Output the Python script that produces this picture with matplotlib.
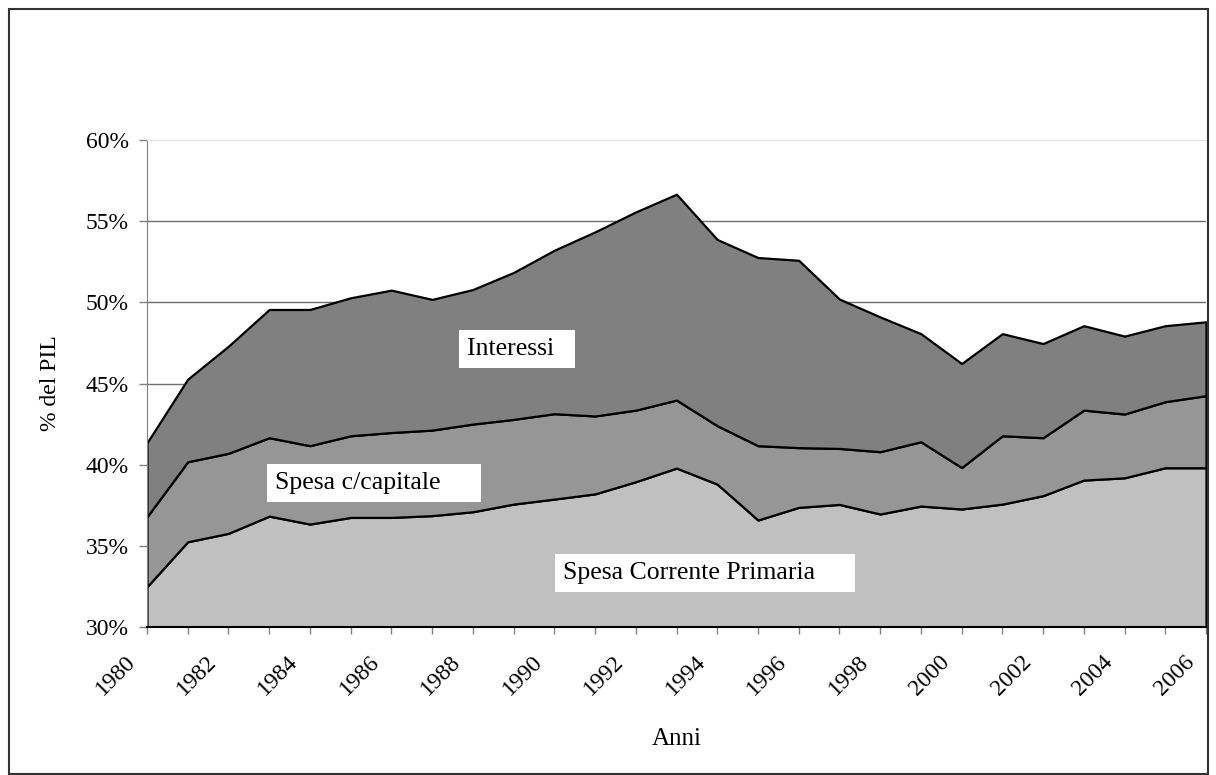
import matplotlib
matplotlib.use("Agg")
import matplotlib.pyplot as plt
from matplotlib.patches import Rectangle
from matplotlib.transforms import ScaledTranslation
import numpy as np

plt.rcParams['font.family'] = ['Liberation Serif', 'DejaVu Serif']

# anni e componenti della spesa (% del PIL)
anni = list(range(1980, 2007))
spesa_corrente = [32.48, 35.25, 35.77, 36.83, 36.34, 36.75, 36.75, 36.86, 37.10, 37.57,
                  37.88, 38.20, 38.95, 39.79, 38.80, 36.59, 37.37, 37.55, 36.96, 37.45,
                  37.27, 37.57, 38.09, 39.05, 39.19, 39.81, 39.81]
spesa_capitale = [4.31, 4.93, 4.93, 4.83, 4.83, 5.03, 5.23, 5.27, 5.40, 5.22,
                  5.26, 4.80, 4.41, 4.19, 3.60, 4.58, 3.68, 3.45, 3.84, 3.96,
                  2.55, 4.21, 3.57, 4.31, 3.93, 4.07, 4.44]
interessi = [4.56, 5.09, 6.60, 7.90, 8.39, 8.50, 8.77, 8.05, 8.29, 9.05,
             10.07, 11.34, 12.21, 12.68, 11.47, 11.59, 11.54, 9.20, 8.30, 6.66,
             6.41, 6.29, 5.80, 5.20, 4.80, 4.68, 4.55]
yticks = [30, 35, 40, 45, 50, 55, 60]

fig = plt.figure(figsize=(12.16, 7.75), dpi=100)
ax = fig.add_axes([147/1216, 1-627/775, (1206-147)/1216, (627-140)/775])

ax.stackplot(anni, spesa_corrente, spesa_capitale, interessi,
             colors=['#c0c0c0', '#969696', '#808080'],
             edgecolor='black', linewidth=1.6)

ax.set_xlim(anni[0], anni[-1])
ax.set_ylim(30, 60)
ax.set_yticks(yticks)
ax.set_yticklabels(['{}%'.format(v) for v in yticks], fontsize=17)
ax.set_xticks(anni)
ax.set_xticklabels([str(a) if a % 2 == 0 else '' for a in anni], fontsize=17,
                   rotation=45, ha='right', va='center', rotation_mode='anchor')

ax.set_axisbelow(True)
ax.yaxis.grid(True, color='#6e6e6e', linewidth=1)
ax.get_ygridlines()[-1].set_visible(False)

ax.spines['right'].set_visible(False)
ax.spines['top'].set_color('#e4e4e4')
ax.spines['left'].set_color('#808080')
ax.spines['bottom'].set_color('black')
ax.spines['bottom'].set_linewidth(1.5)

ax.tick_params(axis='y', direction='out', length=6, width=1, color='#808080', pad=7)
ax.tick_params(axis='x', direction='out', length=5, width=1, color='#808080', pad=18)

shift = ScaledTranslation(-0.15, 0, fig.dpi_scale_trans)
for lab in ax.get_xticklabels():
    lab.set_transform(lab.get_transform() + shift)

ax.set_xlabel('Anni', fontsize=18, labelpad=20)
ax.set_ylabel('% del PIL', fontsize=17, labelpad=18)

box = dict(boxstyle='square,pad=0.3', facecolor='white', edgecolor='none')
ax.text(1987.86, 47.12, 'Interessi\u00a0\u00a0', fontsize=18.5, ha='left', va='center', bbox=box)
ax.text(1983.14, 38.87, 'Spesa c/capitale\u00a0\u00a0\u00a0\u00a0\u00a0', fontsize=18.5, ha='left', va='center', bbox=box)
ax.text(1990.21, 33.33, 'Spesa Corrente Primaria\u00a0\u00a0\u00a0\u00a0\u00a0', fontsize=18.5, ha='left', va='center', bbox=box)

fig.patches.append(Rectangle((9/1216, 1/775), 1199/1216, 765/775, transform=fig.transFigure,
                             fill=False, edgecolor='#333333', linewidth=1.5))

fig.savefig('out.png', dpi=100)
